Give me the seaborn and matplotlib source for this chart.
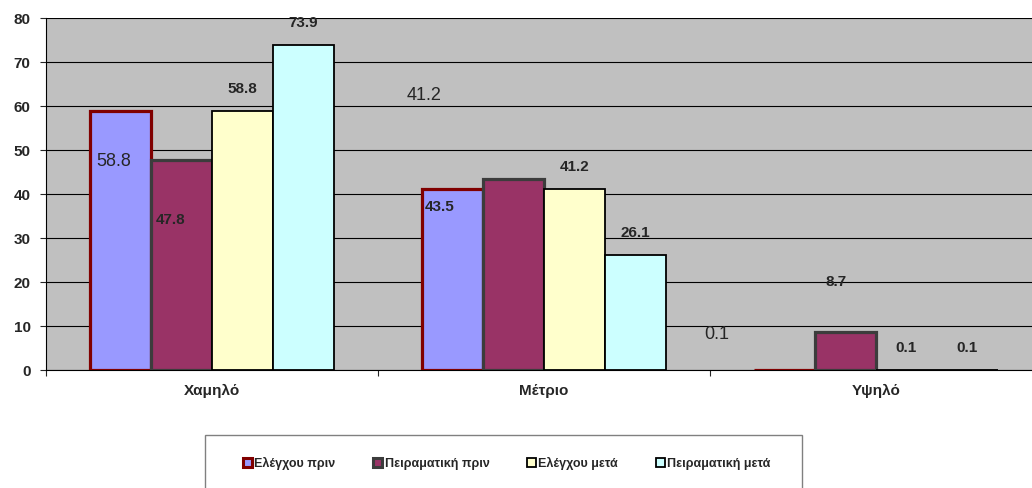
import pandas as pd
import seaborn as sns
import matplotlib.pyplot as plt
from matplotlib.patches import Patch, Rectangle

# Data
categories = ["Χαμηλό", "Μέτριο", "Υψηλό"]
series = ["Ελέγχου πριν", "Πειραματική πριν", "Ελέγχου μετά", "Πειραματική μετά"]
control_before = [58.8, 41.2, 0.1]
exper_before = [47.8, 43.5, 8.7]
control_after = [58.8, 41.2, 0.1]
exper_after = [73.9, 26.1, 0.1]
yticks = [0, 10, 20, 30, 40, 50, 60, 70, 80]

# Styles
fills = ["#9999FF", "#993366", "#FFFFCC", "#CCFFFF"]
edges = ["#800000", "#3C3C3C", "#000000", "#000000"]
edge_widths = [2.3, 2.3, 1.3, 1.3]

# the first two series had their labels dragged around in the original:
# (x shift in px from bar centre, y in data units)
odd_labels = {
    0: [(-7, 47.3), (-29, 62.5), (-68, 8.0)],
    1: [(-11, 34.1), (-74, 37.0), (-10, 20.0)],
}

values = [control_before, exper_before, control_after, exper_after]
df = pd.DataFrame({
    "level": [c for _ in series for c in categories],
    "group": [s for s in series for _ in categories],
    "value": [v for vals in values for v in vals],
})

sns.set_style("white")
plt.rcParams["font.family"] = ["Liberation Sans", "DejaVu Sans"]

W, H = 1032, 488
fig = plt.figure(figsize=(W / 100, H / 100), dpi=100)
ax = fig.add_axes([46 / W, (H - 370) / H, 996 / W, 352 / H])
ax.set_facecolor("#C0C0C0")

sns.barplot(data=df, x="level", y="value", hue="group", order=categories,
            hue_order=series, palette=fills, saturation=1, width=0.732,
            errorbar=None, legend=False, ax=ax)

for i, cont in enumerate(ax.containers):
    for bar in cont:
        bar.set_edgecolor(edges[i])
        bar.set_linewidth(edge_widths[i])
        bar.set_joinstyle("miter")
        bar.set_zorder(4)

# value labels
for i, cont in enumerate(ax.containers):
    for j, bar in enumerate(cont):
        xc = bar.get_x() + bar.get_width() / 2
        txt = f"{values[i][j]:.1f}"
        if i in odd_labels:
            dx, yv = odd_labels[i][j]
            ax.annotate(txt, (xc, yv), xytext=(dx, 0), textcoords="offset pixels",
                        ha="center", va="center", zorder=5,
                        fontsize=13 if i == 0 else 11,
                        fontweight="normal" if i == 0 else "bold")
        else:
            ax.annotate(txt, (xc, bar.get_height()), xytext=(0, 22),
                        textcoords="offset pixels", ha="center", va="center",
                        fontsize=11, fontweight="bold", zorder=5)

ax.set_ylim(0, 80)
ax.set_xlim(-0.5, 2.5)
ax.set_yticks(yticks)
ax.grid(axis="y", color="black", linewidth=0.8, zorder=1)
ax.set_axisbelow(True)
ax.set_xlabel("")
ax.set_ylabel("")

for side in ["top", "right"]:
    ax.spines[side].set_visible(False)
for side in ["left", "bottom"]:
    ax.spines[side].set_color("black")
    ax.spines[side].set_linewidth(0.8)
    ax.spines[side].set_zorder(2)

ax.tick_params(axis="y", direction="out", length=4, width=0.8, pad=7,
               labelsize=11, left=True)
ax.tick_params(axis="x", which="major", length=0, pad=10, labelsize=11)
ax.set_xticks([-0.5, 0.5, 1.5, 2.5], minor=True)
ax.tick_params(axis="x", which="minor", direction="out", length=4, width=0.8,
               bottom=True)
for lab in ax.get_xticklabels() + ax.get_yticklabels():
    lab.set_fontweight("bold")

# legend box
fig.add_artist(Rectangle((205 / W, -0.05), (802 - 205) / W, (H - 435) / H + 0.05,
                         transform=fig.transFigure, facecolor="white",
                         edgecolor="#808080", linewidth=1))
handles = [Patch(facecolor=fills[i], edgecolor=edges[i], linewidth=2.2 if i < 2 else 1.3)
           for i in range(len(series))]
fig.legend(handles, series, loc="center left", bbox_to_anchor=(243 / W, (H - 463) / H),
           ncol=4, frameon=False, handletextpad=0.2, columnspacing=3.0,
           handlelength=0.72, handleheight=0.72, borderpad=0, borderaxespad=0,
           prop={"size": 9, "weight": "bold"})

fig.savefig("out.png", dpi=100)
